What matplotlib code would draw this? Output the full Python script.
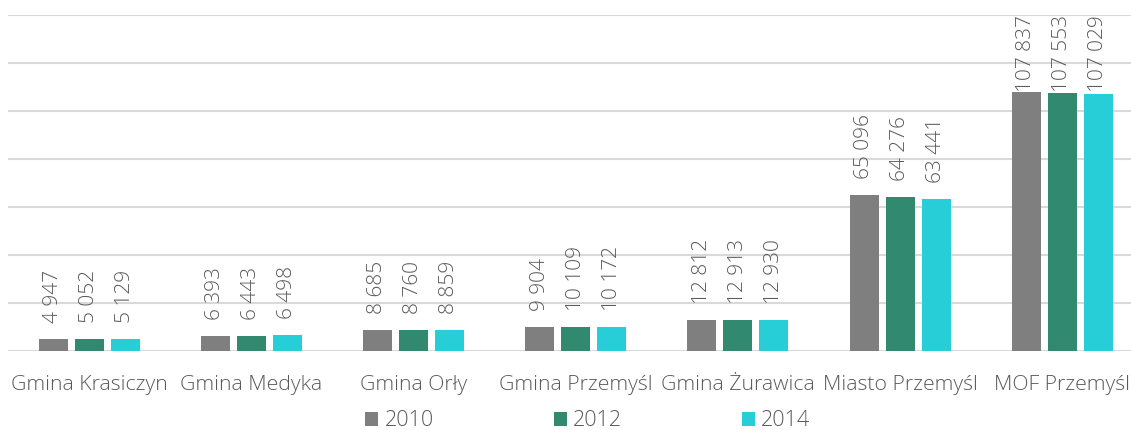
import matplotlib.pyplot as plt
import numpy as np

plt.rcParams['font.family'] = ['Open Sans', 'DejaVu Sans']

categories = ['Gmina Krasiczyn', 'Gmina Medyka', 'Gmina Orły', 'Gmina Przemyśl',
              'Gmina Żurawica', 'Miasto Przemyśl', 'MOF Przemyśl']
years = ['2010', '2012', '2014']
values_2010 = [4947, 6393, 8685, 9904, 12812, 65096, 107837]
values_2012 = [5052, 6443, 8760, 10109, 12913, 64276, 107553]
values_2014 = [5129, 6498, 8859, 10172, 12930, 63441, 107029]
colors = ['#7f7f7f', '#318a6f', '#27cdd7']

text_color = '#595959'
grid_color = '#d9d9d9'

fig = plt.figure(figsize=(11.31, 4.30), dpi=100)
group = 162.2
ax = fig.add_axes([8 / 1131, 1 - 351 / 430, 7 * group / 1131, 336 / 430])

x = np.arange(len(categories))
width = 29 / group
step = 36 / group
series = [values_2010, values_2012, values_2014]

ymax = 140000
for i, (vals, year, col) in enumerate(zip(series, years, colors)):
    xs = x + (i - 1) * step
    ax.bar(xs, vals, width, color=col, label=year, zorder=3)
    for xv, v in zip(xs, vals):
        label = f'{v:,}'.replace(',', ' ')
        if v > 100000:
            ax.text(xv, ymax, label, rotation=90, ha='center', va='top',
                    fontsize=15, color=text_color, fontweight='light', zorder=4)
        else:
            ax.annotate(label, (xv, v), xytext=(0, 11.5), textcoords='offset points',
                        rotation=90, ha='center', va='bottom', fontweight='light',
                        fontsize=15, color=text_color, zorder=4)

ax.set_xlim(-0.5, len(categories) - 0.5)
ax.set_ylim(0, ymax)
ax.set_yticks(np.arange(0, ymax + 1, 20000))
ax.yaxis.grid(True, color=grid_color, linewidth=1.5, zorder=0)
ax.tick_params(axis='y', left=False, labelleft=False)
ax.set_xticks(x)
ax.set_xticklabels(categories, fontsize=15.3, color=text_color, fontweight='light')
ax.tick_params(axis='x', bottom=False, pad=13.5)
for s in ax.spines.values():
    s.set_visible(False)

leg = fig.legend(loc='center', bbox_to_anchor=(588 / 1131, 1 - 421 / 430), ncol=3,
                 frameon=False, fontsize=15.5, labelcolor=text_color,
                 handlelength=0.6, handleheight=0.6, handletextpad=0.3,
                 columnspacing=5.56)
for t in leg.get_texts():
    t.set_fontweight('light')

fig.savefig('out.png', dpi=100)
